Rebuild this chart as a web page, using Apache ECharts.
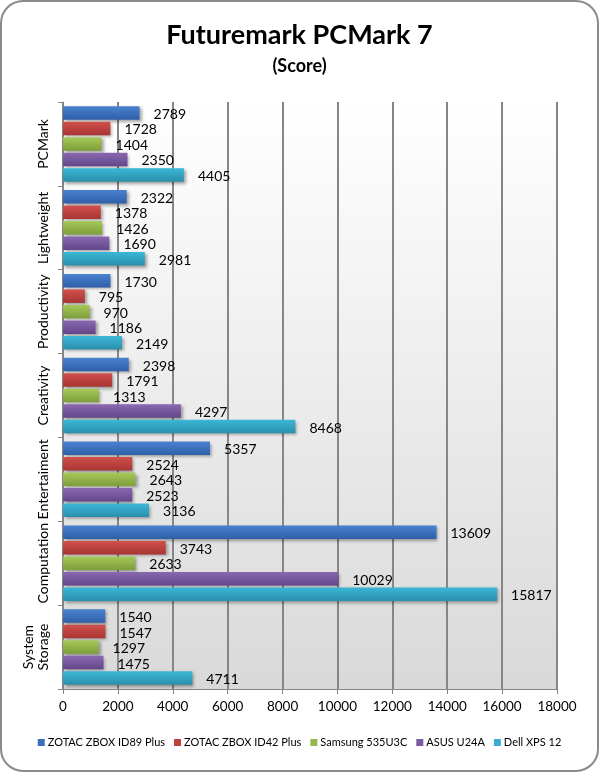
<!DOCTYPE html>
<html><head><meta charset="utf-8">
<script src="https://cdn.jsdelivr.net/npm/echarts@6/dist/echarts.min.js"></script>
<style>html,body{margin:0;padding:0;background:#fff}#c{width:599px;height:772px}</style>
</head><body><div id="c"></div>
<script>
const categories = ['PCMark', 'Lightweight', 'Productivity', 'Creativity', 'Entertaiment', 'Computation', 'System\nStorage'];
const seriesNames = ['ZOTAC ZBOX ID89 Plus', 'ZOTAC ZBOX ID42 Plus', 'Samsung 535U3C', 'ASUS U24A', 'Dell XPS 12'];
const zotacID89 = [2789, 2322, 1730, 2398, 5357, 13609, 1540];
const zotacID42 = [1728, 1378, 795, 1791, 2524, 3743, 1547];
const samsung = [1404, 1426, 970, 1313, 2643, 2633, 1297];
const asus = [2350, 1690, 1186, 4297, 2523, 10029, 1475];
const dell = [4405, 2981, 2149, 8468, 3136, 15817, 4711];
const xTicks = [0, 2000, 4000, 6000, 8000, 10000, 12000, 14000, 16000, 18000];

const allValues = [zotacID89, zotacID42, samsung, asus, dell];
const colors = [['#4a82d0', '#2f5fa8'], ['#d0504c', '#a83532'], ['#a6c95a', '#7d9e3a'], ['#8a68b0', '#63468a'], ['#3bb7d6', '#2a8fab']];
const legendColors = ['#3d6fc0', '#c0403d', '#95b950', '#7a5aa0', '#3aaed0'];
const font = 'Lato, "Open Sans", sans-serif';

const chart = echarts.init(document.getElementById('c'));
chart.setOption({
  animation: false,
  backgroundColor: '#fff',
  graphic: [{
    type: 'rect', shape: { x: 1, y: 1, width: 597, height: 770, r: 22 },
    style: { fill: 'none', stroke: '#8a8a8a', lineWidth: 2 }, z: 100
  }],
  title: [
    { text: 'Futuremark PCMark 7', left: 'center', top: 17,
      textStyle: { fontFamily: font, fontSize: 27, fontWeight: 'bold', color: '#000' } },
    { text: '(Score)', left: 'center', top: 52,
      textStyle: { fontFamily: font, fontSize: 18, fontWeight: 'bold', color: '#000' } }
  ],
  legend: {
    bottom: 19, left: 'center', itemWidth: 7, itemHeight: 7, itemGap: 9, icon: 'rect',
    textStyle: { fontFamily: font, fontSize: 11, color: '#000', padding: [0, 0, 0, -2] },
    data: seriesNames.map((n, i) => ({ name: n, itemStyle: { color: legendColors[i] } }))
  },
  grid: {
    left: 63, right: 42, top: 102, bottom: 83, show: true, borderWidth: 0,
    backgroundColor: { type: 'linear', x: 0, y: 0, x2: 0, y2: 1,
      colorStops: [{ offset: 0, color: '#ffffff' }, { offset: 1, color: '#d9d9d9' }] }
  },
  xAxis: {
    type: 'value', min: 0, max: 18000, interval: 2000,
    axisLine: { show: true, lineStyle: { color: '#868686', width: 1 } },
    axisTick: { show: true, length: 5, lineStyle: { color: '#868686' } },
    splitLine: { show: true, lineStyle: { color: '#868686', width: 2 } },
    axisLabel: { fontFamily: font, fontSize: 13.5, color: '#000', margin: 11,
      formatter: v => xTicks.includes(v) ? String(v) : '' }
  },
  yAxis: {
    type: 'category', data: categories, inverse: true,
    axisLine: { show: true, lineStyle: { color: '#868686', width: 1 } },
    axisTick: { show: true, length: 5, lineStyle: { color: '#868686' } },
    axisLabel: { interval: 0, rotate: 90, fontFamily: font, fontSize: 14, color: '#000', margin: 12, lineHeight: 15, align: 'center' }
  },
  series: allValues.map((vals, i) => ({
    name: seriesNames[i], type: 'bar', data: vals,
    barGap: '15%', barCategoryGap: '10%',
    itemStyle: {
      color: { type: 'linear', x: 0, y: 0, x2: 0, y2: 1,
        colorStops: [{ offset: 0, color: colors[i][0] }, { offset: 1, color: colors[i][1] }] },
      shadowColor: 'rgba(0,0,0,0.35)', shadowBlur: 3, shadowOffsetX: 2, shadowOffsetY: 2
    },
    label: { show: true, position: 'right', distance: 14, offset: [0, 1.5], fontFamily: font, fontSize: 14, color: '#000' }
  }))
});
</script></body></html>
